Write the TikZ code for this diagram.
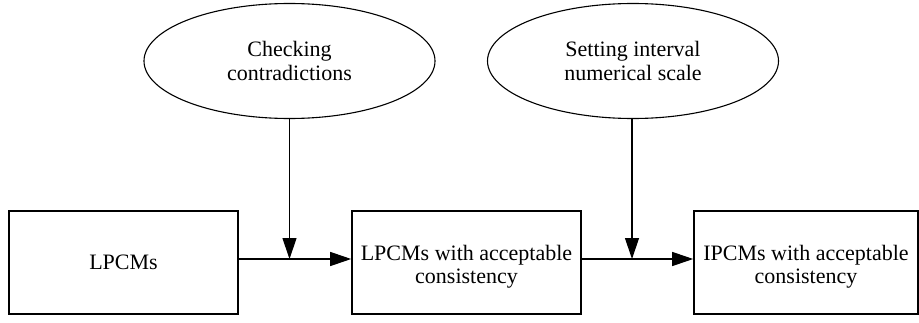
\documentclass[tikz,border=0pt]{standalone}
\usepackage{fontspec}
\setmainfont{Liberation Serif}
\usetikzlibrary{arrows.meta,shapes.geometric}
\begin{document}
\begin{tikzpicture}[x=1bp,y=1bp,
  txt/.style={font=\fontsize{22bp}{23.5bp}\selectfont, align=center, inner sep=0pt},
  procbox/.style={txt, draw, line width=1.6bp, minimum width=229bp, minimum height=103bp},
  oval/.style={txt, draw, ellipse, line width=1.1bp, minimum width=291bp, minimum height=115bp},
  flow/.style={line width=1.2bp, -{Triangle[length=21bp,width=14bp]}}]
\useasboundingbox (0,0) rectangle (919,322);
\node[procbox] (b1) at (123.5,59.5) {LPCMs};
\node[procbox] (b2) at (466.5,59.5) {\rule{0pt}{24bp}LPCMs with acceptable\\consistency};
\node[procbox, minimum width=224bp] (b3) at (806,59.5) {\rule{0pt}{24bp}IPCMs with acceptable\\consistency};
\node[oval] (e1) at (289.5,261) {Checking\\contradictions};
\node[oval] (e2) at (633,261) {Setting interval\\numerical scale};
\coordinate (j1) at (289.5,63);
\coordinate (j2) at (632,63);
\draw[flow] (b1.east |- j1) -- (b2.west |- j1);
\draw[flow] (b2.east |- j2) -- (b3.west |- j2);
\draw[flow] (e1.south) -- (j1);
\draw[flow] (e2.south -| j2) -- (j2);
\end{tikzpicture}
\end{document}
